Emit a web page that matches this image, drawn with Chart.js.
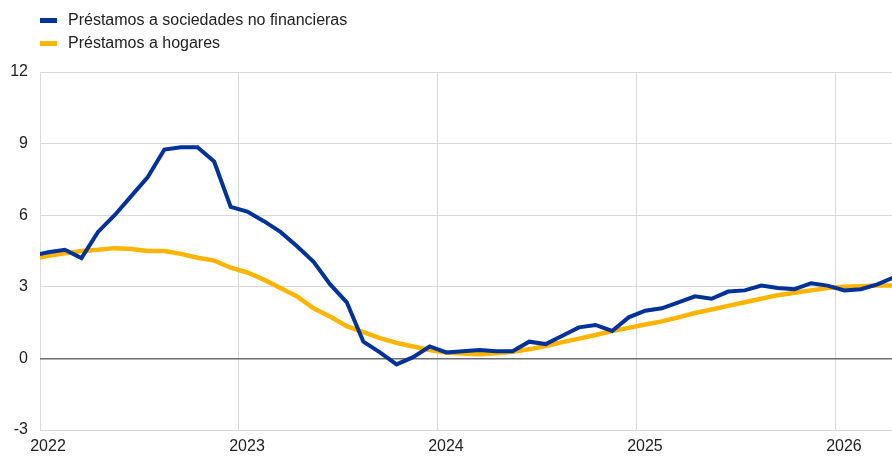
<!DOCTYPE html>
<html>
<head>
<meta charset="utf-8">
<script src="https://cdn.jsdelivr.net/npm/chart.js@4/dist/chart.umd.min.js"></script>
<style>
  body { margin: 0; background: #fff; }
  #wrap { position: relative; width: 892px; height: 457px; }
  .leg { position: absolute; left: 40px; height: 22px; display: flex; align-items: center;
         font: 16px 'Liberation Sans', Arial, sans-serif; color: #222; }
  .leg span.box { display: inline-block; width: 17px; height: 5px; margin-right: 11px; }
</style>
</head>
<body>
<div id="wrap">
  <div class="leg" style="top:9px"><span class="box" style="background:#003299"></span>Préstamos a sociedades no financieras</div>
  <div class="leg" style="top:32px"><span class="box" style="background:#ffb400"></span>Préstamos a hogares</div>
  <canvas id="myChart" width="892" height="457"></canvas>
</div>
<script>
Chart.defaults.font.family = "'Liberation Sans', Arial, sans-serif";
Chart.defaults.font.size = 16;
Chart.defaults.color = '#222';

// monthly observations, Dec 2021 - Apr 2026
const months = [
  '2021-12',
  '2022-01', '2022-02', '2022-03', '2022-04', '2022-05', '2022-06', '2022-07', '2022-08', '2022-09', '2022-10', '2022-11', '2022-12',
  '2023-01', '2023-02', '2023-03', '2023-04', '2023-05', '2023-06', '2023-07', '2023-08', '2023-09', '2023-10', '2023-11', '2023-12',
  '2024-01', '2024-02', '2024-03', '2024-04', '2024-05', '2024-06', '2024-07', '2024-08', '2024-09', '2024-10', '2024-11', '2024-12',
  '2025-01', '2025-02', '2025-03', '2025-04', '2025-05', '2025-06', '2025-07', '2025-08', '2025-09', '2025-10', '2025-11', '2025-12',
  '2026-01', '2026-02', '2026-03', '2026-04'
];

const empresas = [
  4.3,
  4.45, 4.55, 4.2, 5.3, 6.0, 6.8, 7.6, 8.75, 8.85, 8.85, 8.25, 6.35,
  6.15, 5.75, 5.3, 4.7, 4.05, 3.1, 2.35, 0.7, 0.25, -0.25, 0.05, 0.5,
  0.25, 0.3, 0.35, 0.3, 0.3, 0.7, 0.6, 0.95, 1.3, 1.4, 1.15, 1.72,
  2.0, 2.1, 2.35, 2.6, 2.5, 2.8, 2.85, 3.05, 2.95, 2.9, 3.15, 3.05,
  2.85, 2.9, 3.1, 3.4
];

const hogares = [
  4.15,
  4.3, 4.4, 4.5, 4.55, 4.62, 4.58, 4.5, 4.5, 4.38, 4.22, 4.1, 3.8,
  3.6, 3.3, 2.95, 2.6, 2.1, 1.75, 1.35, 1.1, 0.85, 0.65, 0.5, 0.35,
  0.25, 0.2, 0.17, 0.22, 0.28, 0.38, 0.52, 0.68, 0.83, 0.98, 1.15, 1.28,
  1.42, 1.55, 1.72, 1.9, 2.05, 2.2, 2.35, 2.5, 2.65, 2.75, 2.85, 2.95,
  3.0, 3.02, 3.05, 3.05
];

const yearTicks = [2022, 2023, 2024, 2025, 2026];

// month position: months since Jan 2022, placed mid-month
function monthPos(m) {
  const [y, mo] = m.split('-').map(Number);
  return (y - 2022) * 12 + (mo - 1) + 0.5;
}
const toPoints = vals => months.map((m, i) => ({ x: monthPos(m), y: vals[i] }));

const data = {
  datasets: [
    {
      label: 'Préstamos a sociedades no financieras',
      data: toPoints(empresas),
      borderColor: '#003299',
      borderWidth: 4,
      pointRadius: 0,
      clip: 0
    },
    {
      label: 'Préstamos a hogares',
      data: toPoints(hogares),
      borderColor: '#ffb400',
      borderWidth: 4.5,
      pointRadius: 0,
      clip: 0
    }
  ]
};

const config = {
  type: 'line',
  data,
  options: {
    responsive: false,
    animation: false,
    layout: { padding: { top: 72, left: 0, right: 0, bottom: 0 } },
    plugins: { legend: { display: false }, tooltip: { enabled: false } },
    scales: {
      x: {
        type: 'linear',
        min: 0,
        max: 51.38,
        afterBuildTicks: s => { s.ticks = yearTicks.map(y => ({ value: (y - 2022) * 12 })); },
        afterFit: s => { s.height = 27; },
        ticks: {
          callback: v => String(2022 + v / 12),
          labelOffset: 8,
          padding: 7,
          maxRotation: 0,
          color: '#222'
        },
        grid: { color: '#d9d9d9', lineWidth: 1, drawTicks: false },
        border: { display: false }
      },
      y: {
        min: -3,
        max: 12,
        afterFit: s => { s.width = 40; },
        ticks: { stepSize: 3, padding: 12, color: '#222' },
        grid: {
          color: c => (c.tick && c.tick.value === 0) ? '#6e6e6e' : '#d9d9d9',
          lineWidth: c => (c.tick && c.tick.value === 0) ? 1.5 : 1,
          drawTicks: false
        },
        border: { display: false }
      }
    }
  }
};

const myChart = new Chart(document.getElementById('myChart'), config);
</script>
</body>
</html>
